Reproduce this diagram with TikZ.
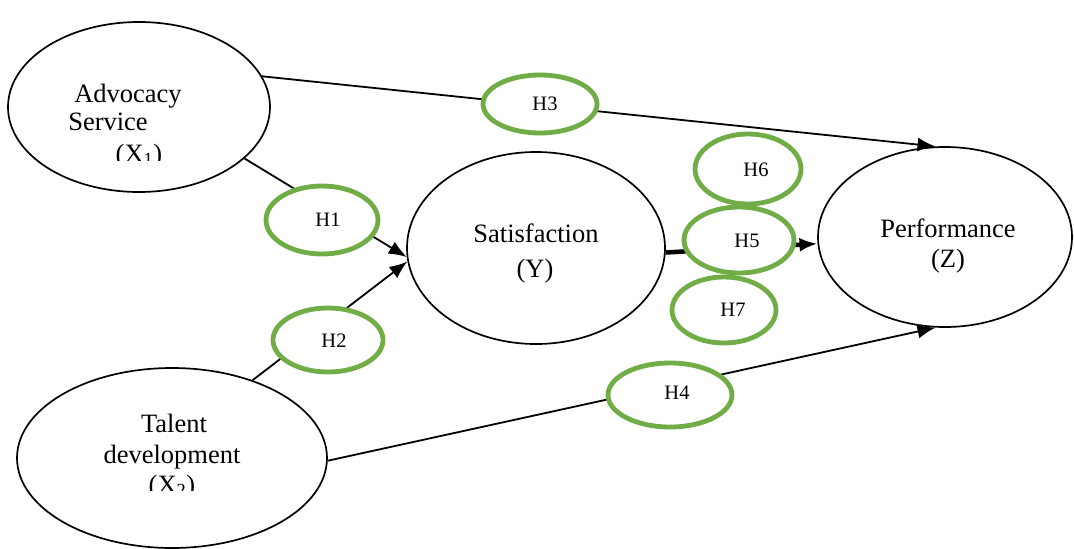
\documentclass[tikz,border=0pt]{standalone}
\usepackage{fontspec}
\setmainfont{Liberation Serif}
\usetikzlibrary{shapes.geometric,arrows.meta}
\definecolor{hgreen}{RGB}{112,173,71}
\tikzset{
  construct/.style={ellipse,draw=black,line width=1.7pt,fill=white,inner sep=0pt},
  hyp/.style={ellipse,draw=hgreen,line width=4.8pt,fill=white,inner sep=0pt},
  lbl/.style={font=\fontsize{26.5}{30}\selectfont,inner sep=0pt,anchor=base},
  hlbl/.style={font=\fontsize{20.5}{24}\selectfont,inner sep=0pt},
  path/.style={line width=1.8pt,-{Latex[length=18pt,width=14pt]}},
  thickpath/.style={line width=4.5pt,-{Latex[length=18pt,width=14pt]}}
}
\begin{document}
\begin{tikzpicture}[x=1pt,y=-1pt]
\useasboundingbox (0,0) rectangle (1074,549);
% constructs
\node[construct,minimum width=262pt,minimum height=170pt] (X1) at (139,107) {};
\node[construct,minimum width=310pt,minimum height=180pt] (X2) at (172,458) {};
\node[construct,minimum width=258pt,minimum height=192pt] (Y) at (536,248) {};
\node[construct,minimum width=254pt,minimum height=180pt] (Z) at (945,237) {};
% connectors
\draw[path] (X1.14) -- (Z.96);
\draw[path] (X1.-26) -- (Y.184.5);
\draw[path] (X2.44) -- (Y.186);
\draw[thickpath] (Y.-2) -- (Z.183);
\draw[path] (X2.-1) -- (Z.264);
% hypotheses
\node[hyp,minimum width=114pt,minimum height=58pt] (H3e) at (540,104) {};
\node[hyp,minimum width=112pt,minimum height=68pt] (H1e) at (322,220) {};
\node[hyp,minimum width=110pt,minimum height=64pt] (H2e) at (328,340) {};
\node[hyp,minimum width=106pt,minimum height=70pt] (H6e) at (748,169) {};
\node[hyp,minimum width=110pt,minimum height=66pt] (H5e) at (739,240) {};
\node[hyp,minimum width=104pt,minimum height=66pt] (H7e) at (724,310) {};
\node[hyp,minimum width=124pt,minimum height=64pt] (H4e) at (670,395) {};
\node[hlbl] (H3) at (545,104) {H3};
\node[hlbl] (H1) at (328,220) {H1};
\node[hlbl] (H2) at (334,341) {H2};
\node[hlbl] (H6) at (756,170) {H6};
\node[hlbl] (H5) at (747,241) {H5};
\node[hlbl] (H7) at (733,310) {H7};
\node[hlbl] (H4) at (677,393) {H4};
% construct labels
\node[lbl] (t1a) at (128,102) {Advocacy};
\node[lbl] (t1b) at (108,130) {Service};
\begin{scope}
\clip (0,0) rectangle (1074,160);
\node[lbl] (t1c) at (139,162) {(X\textsubscript{1})};
\end{scope}
\node[lbl] (t2a) at (174,432) {Talent};
\node[lbl] (t2b) at (172,463) {development};
\begin{scope}
\clip (0,0) rectangle (1074,490);
\node[lbl] (t2c) at (172,493) {(X\textsubscript{2})};
\end{scope}
\node[lbl] (t3a) at (536,242) {Satisfaction};
\node[lbl] (t3b) at (535,277) {(Y)};
\node[lbl] (t4a) at (948,237) {Performance};
\node[lbl] (t4b) at (948,267) {(Z)};
\end{tikzpicture}
\end{document}
